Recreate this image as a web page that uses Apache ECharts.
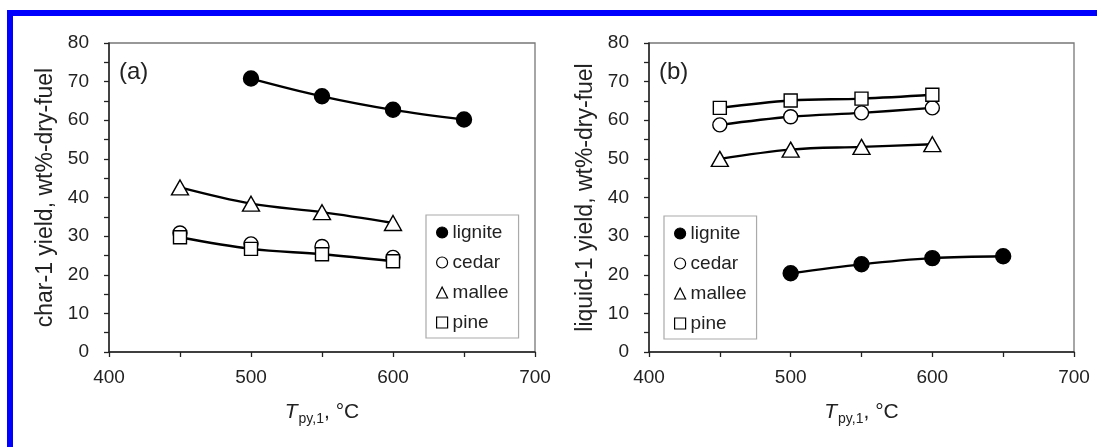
<!DOCTYPE html>
<html><head><meta charset="utf-8">
<script src="https://cdn.jsdelivr.net/npm/echarts@6/dist/echarts.min.js"></script>
<style>html,body{margin:0;padding:0;background:#fff}#c{width:1097px;height:447px}</style>
</head><body><div id="c"></div>
<script>
// ---- data ----
const temps = [450, 500, 550, 600, 650];
const fuels = ['lignite', 'cedar', 'mallee', 'pine'];
const xRange = [400, 700];
const yRange = [0, 80];
const panelLabels = ['(a)', '(b)'];
const yTitles = ['char-1 yield, wt%-dry-fuel', 'liquid-1 yield, wt%-dry-fuel'];

const ligniteChar = [null, 70.8, 66.2, 62.7, 60.2];
const cedarChar   = [30.8, 28.0, 27.3, 24.5, null];
const malleeChar  = [42.6, 38.4, 36.2, 33.4, null];
const pineChar    = [29.7, 26.7, 25.3, 23.5, null];

const ligniteLiquid = [null, 20.4, 22.7, 24.3, 24.8];
const cedarLiquid   = [58.8, 60.9, 61.9, 63.2, null];
const malleeLiquid  = [50.0, 52.4, 53.1, 53.8, null];
const pineLiquid    = [63.2, 65.1, 65.6, 66.6, null];

const panels = [
  {lignite: ligniteChar, cedar: cedarChar, mallee: malleeChar, pine: pineChar},
  {lignite: ligniteLiquid, cedar: cedarLiquid, mallee: malleeLiquid, pine: pineLiquid}
];
// in panel (a) the cedar points share the pine curve (no separate line visible)
const hiddenLines = [['cedar'], []];

// ---- styling ----
const FONT = 'Liberation Sans';
const TXT = '#222';
const markers = {
  lignite: {symbol: 'circle', size: 15, fill: '#000'},
  cedar:   {symbol: 'circle', size: 14, fill: '#fff'},
  mallee:  {symbol: 'triangle', size: [17, 15], fill: '#fff'},
  pine:    {symbol: 'rect', size: 13, fill: '#fff'}
};
const grids = [
  {left: 109, top: 43, width: 426, height: 309},
  {left: 649, top: 43, width: 425, height: 309}
];
const legendPos = [{left: 426, top: 215}, {left: 664, top: 216}];
const labelPos = [{left: 119, top: 60}, {left: 659, top: 60}];

function pairs(vals) {
  const out = [];
  temps.forEach((t, i) => { if (vals[i] != null) out.push([t, vals[i]]); });
  return out;
}

const series = [];
panels.forEach((p, k) => {
  fuels.forEach((f, j) => {
    const m = markers[f];
    const hide = hiddenLines[k].indexOf(f) >= 0;
    series.push({
      type: 'line', name: f, xAxisIndex: k, yAxisIndex: k,
      data: pairs(p[f]), smooth: 0.35,
      symbol: m.symbol, symbolSize: m.size, showSymbol: true,
      lineStyle: {color: '#000', width: 2.4, opacity: hide ? 0 : 1},
      itemStyle: {color: m.fill, borderColor: '#000', borderWidth: 1.4},
      z: 2 + j, emphasis: {disabled: true}, silent: true
    });
  });
});

const xName = '{t|T}{s|py,1}{n|, °C}';
const xRich = {
  t: {fontFamily: FONT, fontSize: 21, fontStyle: 'italic', color: TXT, verticalAlign: 'bottom', lineHeight: 24, padding: [0, 1, 3, 0]},
  s: {fontFamily: FONT, fontSize: 14, color: TXT, verticalAlign: 'bottom', lineHeight: 16},
  n: {fontFamily: FONT, fontSize: 21, color: TXT, verticalAlign: 'bottom', lineHeight: 24, padding: [0, 0, 3, 0]}
};

const option = {
  animation: false,
  backgroundColor: '#fff',
  grid: grids.map(g => Object.assign({show: true, borderColor: '#777', borderWidth: 1.3, backgroundColor: 'transparent'}, g)),
  title: panelLabels.map((t, k) => ({
    text: t, left: labelPos[k].left, top: labelPos[k].top, padding: 0,
    textStyle: {fontFamily: FONT, fontSize: 24, fontWeight: 'normal', color: TXT}
  })),
  legend: legendPos.map(pos => ({
    left: pos.left, top: pos.top, orient: 'vertical',
    data: fuels.map(f => ({
      name: f, icon: markers[f].symbol,
      itemStyle: {color: markers[f].fill, borderColor: '#000', borderWidth: 1.2}
    })),
    itemWidth: 11, itemHeight: 11, itemGap: 11,
    padding: [8, 10, 6, 10],
    borderColor: '#aaa', borderWidth: 1.2, backgroundColor: '#fff',
    selectedMode: false,
    textStyle: {fontFamily: FONT, fontSize: 19, color: TXT}
  })),
  xAxis: grids.map((g, k) => ({
    type: 'value', gridIndex: k, min: xRange[0], max: xRange[1], interval: 100,
    name: xName, nameLocation: 'middle', nameGap: 50,
    nameTextStyle: {rich: xRich},
    axisLine: {show: true, lineStyle: {color: '#222', width: 1.5}},
    axisTick: {show: true, inside: false, length: 5, lineStyle: {color: '#222', width: 1.3}},
    minorTick: {show: true, splitNumber: 2, length: 5, lineStyle: {color: '#222', width: 1.3}},
    splitLine: {show: false},
    axisLabel: {fontFamily: FONT, fontSize: 19, color: TXT, margin: 16}
  })),
  yAxis: grids.map((g, k) => ({
    type: 'value', gridIndex: k, min: yRange[0], max: yRange[1], interval: 10,
    name: yTitles[k], nameLocation: 'middle', nameGap: 52,
    nameTextStyle: {fontFamily: FONT, fontSize: 23, color: TXT},
    axisLine: {show: true, lineStyle: {color: '#222', width: 1.5}},
    axisTick: {show: true, inside: false, length: 5, lineStyle: {color: '#222', width: 1.3}},
    minorTick: {show: true, splitNumber: 2, length: 5, lineStyle: {color: '#222', width: 1.3}},
    splitLine: {show: false},
    axisLabel: {fontFamily: FONT, fontSize: 19, color: TXT, margin: 20}
  })),
  graphic: [
    {type: 'rect', shape: {x: 7, y: 10, width: 1090, height: 6}, style: {fill: '#0000ff'}, silent: true},
    {type: 'rect', shape: {x: 7, y: 10, width: 6, height: 437}, style: {fill: '#0000ff'}, silent: true}
  ],
  series: series
};

const chart = echarts.init(document.getElementById('c'), null, {renderer: 'canvas'});
chart.setOption(option);
</script>
</body></html>
